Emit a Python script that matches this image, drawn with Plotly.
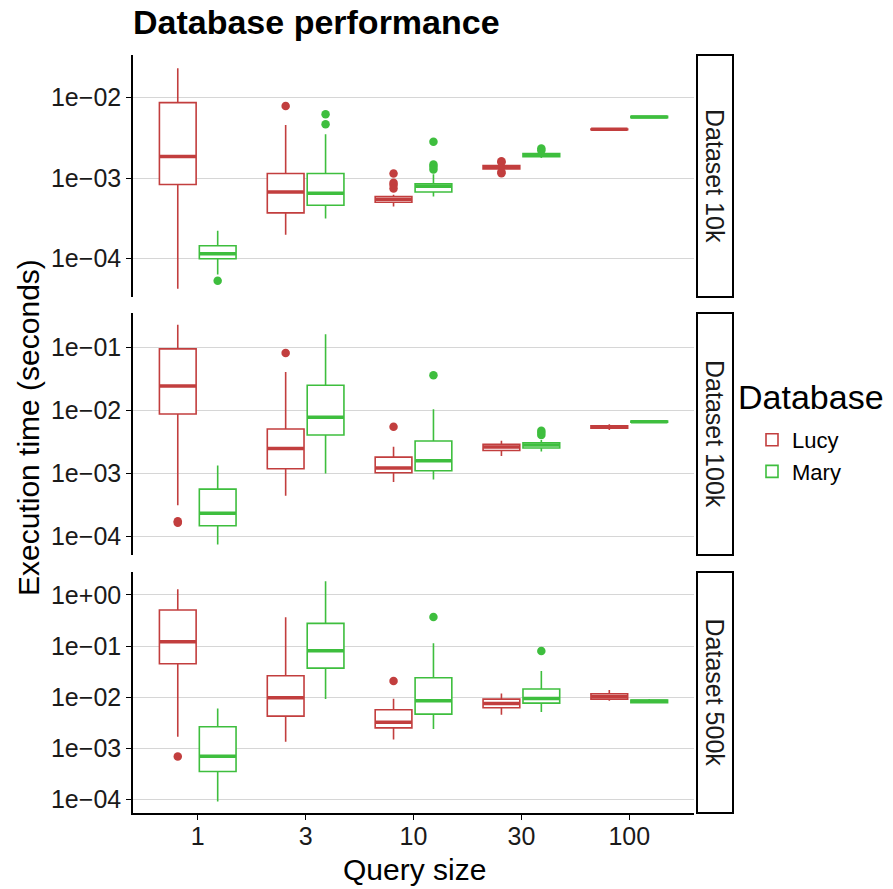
import plotly.graph_objects as go
from plotly.subplots import make_subplots

QUERY_SIZES = ["1", "3", "10", "30", "100"]
DATASETS = ["Dataset 10k", "Dataset 100k", "Dataset 500k"]
DATABASES = ["Lucy", "Mary"]
COLORS = {"Lucy": "#C23E3E", "Mary": "#3EBE3E"}

# ---- Dataset 10k ----
LUCY_10K_LOW = [4.2e-5, 1.97e-4, 4.41e-4, 1.25e-3, 3.96e-3]
LUCY_10K_Q1 = [8.3e-4, 3.68e-4, 5.0e-4, 1.30e-3, 3.99e-3]
LUCY_10K_MED = [1.85e-3, 6.72e-4, 5.44e-4, 1.36e-3, 4.03e-3]
LUCY_10K_Q3 = [8.67e-3, 1.14e-3, 5.88e-4, 1.43e-3, 4.07e-3]
LUCY_10K_HIGH = [2.32e-2, 4.56e-3, 6.2e-4, 1.48e-3, 4.1e-3]
LUCY_10K_OUT_X = ["3", "10", "10", "10", "10", "30", "30", "30", "30"]
LUCY_10K_OUT_Y = [7.87e-3, 1.14e-3, 8.7e-4, 8.2e-4, 7.4e-4, 1.62e-3, 1.57e-3, 1.19e-3, 1.15e-3]

MARY_10K_LOW = [6.3e-5, 3.13e-4, 5.88e-4, 1.78e-3, 5.5e-3]
MARY_10K_Q1 = [9.9e-5, 4.58e-4, 6.71e-4, 1.84e-3, 5.62e-3]
MARY_10K_MED = [1.14e-4, 6.47e-4, 7.9e-4, 1.93e-3, 5.74e-3]
MARY_10K_Q3 = [1.44e-4, 1.14e-3, 8.45e-4, 2.02e-3, 5.86e-3]
MARY_10K_HIGH = [2.21e-4, 3.49e-3, 1.11e-3, 2.1e-3, 5.95e-3]
MARY_10K_OUT_X = ["1", "3", "3", "10", "10", "10", "10", "30", "30"]
MARY_10K_OUT_Y = [5.26e-5, 6.2e-3, 4.65e-3, 2.82e-3, 1.47e-3, 1.38e-3, 1.28e-3, 2.33e-3, 2.2e-3]

# ---- Dataset 100k ----
LUCY_100K_LOW = [3.11e-4, 4.38e-4, 7.24e-4, 1.88e-3, 4.9e-3]
LUCY_100K_Q1 = [8.77e-3, 1.18e-3, 1.02e-3, 2.31e-3, 5.2e-3]
LUCY_100K_MED = [2.45e-2, 2.49e-3, 1.21e-3, 2.62e-3, 5.45e-3]
LUCY_100K_Q3 = [9.52e-2, 5.06e-3, 1.81e-3, 2.88e-3, 5.7e-3]
LUCY_100K_HIGH = [0.23, 0.041, 2.65e-3, 3.3e-3, 6.05e-3]
LUCY_100K_OUT_X = ["1", "1", "3", "10"]
LUCY_100K_OUT_Y = [1.72e-4, 1.64e-4, 0.0822, 5.51e-3]

MARY_100K_LOW = [7.36e-5, 9.96e-4, 7.98e-4, 2.23e-3, 6.4e-3]
MARY_100K_Q1 = [1.46e-4, 4.06e-3, 1.1e-3, 2.52e-3, 6.5e-3]
MARY_100K_MED = [2.32e-4, 7.76e-3, 1.58e-3, 2.81e-3, 6.62e-3]
MARY_100K_Q3 = [5.6e-4, 2.51e-2, 3.26e-3, 3.06e-3, 6.75e-3]
MARY_100K_HIGH = [1.33e-3, 0.163, 1.04e-2, 3.38e-3, 6.85e-3]
MARY_100K_OUT_X = ["10", "30", "30", "30"]
MARY_100K_OUT_Y = [0.0362, 4.76e-3, 4.4e-3, 4.06e-3]

# ---- Dataset 500k ----
LUCY_500K_LOW = [1.67e-3, 1.33e-3, 1.48e-3, 4.51e-3, 8.48e-3]
LUCY_500K_Q1 = [0.045, 4.24e-3, 2.5e-3, 6.18e-3, 9.14e-3]
LUCY_500K_MED = [0.1216, 9.7e-3, 3.23e-3, 7.51e-3, 1.03e-2]
LUCY_500K_Q3 = [0.508, 2.62e-2, 5.65e-3, 9.14e-3, 1.16e-2]
LUCY_500K_HIGH = [1.29, 0.365, 9.27e-3, 1.18e-2, 1.37e-2]
LUCY_500K_OUT_X = ["1", "10"]
LUCY_500K_OUT_Y = [6.87e-4, 0.0206]

MARY_500K_LOW = [9.0e-5, 9.14e-3, 2.36e-3, 5.08e-3, 7.55e-3]
MARY_500K_Q1 = [3.48e-4, 0.037, 4.64e-3, 7.62e-3, 7.8e-3]
MARY_500K_MED = [6.97e-4, 0.081, 8.48e-3, 9.42e-3, 8.3e-3]
MARY_500K_Q3 = [2.62e-3, 0.278, 2.39e-2, 1.44e-2, 8.75e-3]
MARY_500K_HIGH = [6.0e-3, 1.85, 0.113, 3.24e-2, 9.2e-3]
MARY_500K_OUT_X = ["10", "30"]
MARY_500K_OUT_Y = [0.37, 0.0798]

Y_TICKS_10K = [1e-4, 1e-3, 1e-2]
Y_TICKS_100K = [1e-4, 1e-3, 1e-2, 1e-1]
Y_TICKS_500K = [1e-4, 1e-3, 1e-2, 1e-1, 1e0]
Y_TICKTEXT_10K = ["1e\u221204", "1e\u221203", "1e\u221202"]
Y_TICKTEXT_100K = ["1e\u221204", "1e\u221203", "1e\u221202", "1e\u221201"]
Y_TICKTEXT_500K = ["1e\u221204", "1e\u221203", "1e\u221202", "1e\u221201", "1e+00"]

PANELS = [
    {
        "Lucy": (LUCY_10K_LOW, LUCY_10K_Q1, LUCY_10K_MED, LUCY_10K_Q3, LUCY_10K_HIGH, LUCY_10K_OUT_X, LUCY_10K_OUT_Y),
        "Mary": (MARY_10K_LOW, MARY_10K_Q1, MARY_10K_MED, MARY_10K_Q3, MARY_10K_HIGH, MARY_10K_OUT_X, MARY_10K_OUT_Y),
    },
    {
        "Lucy": (LUCY_100K_LOW, LUCY_100K_Q1, LUCY_100K_MED, LUCY_100K_Q3, LUCY_100K_HIGH, LUCY_100K_OUT_X, LUCY_100K_OUT_Y),
        "Mary": (MARY_100K_LOW, MARY_100K_Q1, MARY_100K_MED, MARY_100K_Q3, MARY_100K_HIGH, MARY_100K_OUT_X, MARY_100K_OUT_Y),
    },
    {
        "Lucy": (LUCY_500K_LOW, LUCY_500K_Q1, LUCY_500K_MED, LUCY_500K_Q3, LUCY_500K_HIGH, LUCY_500K_OUT_X, LUCY_500K_OUT_Y),
        "Mary": (MARY_500K_LOW, MARY_500K_Q1, MARY_500K_MED, MARY_500K_Q3, MARY_500K_HIGH, MARY_500K_OUT_X, MARY_500K_OUT_Y),
    },
]
Y_RANGES = [[-4.48, -1.47], [-4.30, -0.45], [-4.27, 0.45]]
Y_TICKVALS = [Y_TICKS_10K, Y_TICKS_100K, Y_TICKS_500K]
Y_TICKTEXTS = [Y_TICKTEXT_10K, Y_TICKTEXT_100K, Y_TICKTEXT_500K]

FONT = "Liberation Sans, Arial, sans-serif"
W, H = 893, 889
ML, MR, MT, MB = 133, 199, 55, 76
PW = W - ML - MR
PH = H - MT - MB


def py(px):
    return (H - MB - px) / PH


def pxx(px):
    return (px - ML) / PW


DOMAINS = [[py(297), py(55)], [py(555), py(313)], [py(813), py(572)]]

fig = make_subplots(rows=3, cols=1, shared_xaxes=True, vertical_spacing=0.02)

for r, panel in enumerate(PANELS, start=1):
    for db in DATABASES:
        low, q1, med, q3, high, ox, oy = panel[db]
        c = COLORS[db]
        fig.add_trace(go.Box(
            x=QUERY_SIZES, q1=q1, median=med, q3=q3, lowerfence=low, upperfence=high,
            name=db, legendgroup=db, showlegend=(r == 1), offsetgroup=db,
            line=dict(color=c, width=1.6), fillcolor="white", whiskerwidth=0,
            boxpoints=False, hoverinfo="skip",
        ), row=r, col=1)
    for db in DATABASES:
        low, q1, med, q3, high, ox, oy = panel[db]
        c = COLORS[db]
        fig.add_trace(go.Scatter(
            x=QUERY_SIZES, y=med, mode="markers", offsetgroup=db, showlegend=False,
            marker=dict(symbol="line-ew", size=26, line=dict(color=c, width=3.5)),
            hoverinfo="skip",
        ), row=r, col=1)
        fig.add_trace(go.Scatter(
            x=ox, y=oy, mode="markers", offsetgroup=db, showlegend=False,
            marker=dict(color=c, size=8.5, line=dict(width=0)), hoverinfo="skip",
        ), row=r, col=1)

for r in range(1, 4):
    fig.update_yaxes(
        type="log", range=Y_RANGES[r - 1], tickvals=Y_TICKVALS[r - 1], ticktext=Y_TICKTEXTS[r - 1],
        showgrid=True, gridcolor="#D6D6D6", gridwidth=1.2, zeroline=False,
        showline=True, linecolor="black", linewidth=1.6, ticks="outside", ticklen=5,
        tickcolor="black", tickwidth=1.2, tickfont=dict(size=25, color="#1a1a1a"),
        domain=DOMAINS[r - 1], row=r, col=1,
    )
    fig.update_xaxes(
        type="category", categoryorder="array", categoryarray=QUERY_SIZES, range=[-0.6, 4.6],
        showgrid=False, zeroline=False, showline=(r == 3), linecolor="black", linewidth=1.6,
        ticks="outside" if r == 3 else "", ticklen=5, tickcolor="black", tickwidth=1.2,
        showticklabels=(r == 3), tickfont=dict(size=25, color="#1a1a1a"),
        ticklabelstandoff=-5,
        row=r, col=1,
    )

shapes = []
annotations = []
yrefs = ["y", "y2", "y3"]
for i, ds in enumerate(DATASETS):
    shapes.append(dict(type="rect", xref="paper", yref=yrefs[i] + " domain",
                       x0=pxx(697), x1=pxx(733), y0=0, y1=1,
                       line=dict(color="black", width=2), fillcolor="white", layer="above"))
    annotations.append(dict(text=ds, xref="paper", yref=yrefs[i] + " domain",
                            x=pxx(715), y=0.5, xanchor="center", yanchor="middle",
                            showarrow=False, textangle=90,
                            font=dict(size=25, color="#1a1a1a", family=FONT)))

annotations.append(dict(text="Execution time (seconds)", xref="paper", yref="paper",
                        x=pxx(28), y=py(428), xanchor="center", yanchor="middle",
                        showarrow=False, textangle=-90,
                        font=dict(size=30, color="black", family=FONT)))
annotations.append(dict(text="Query size", xref="paper", yref="paper",
                        x=pxx(414), y=py(870), xanchor="center", yanchor="middle",
                        showarrow=False,
                        font=dict(size=30, color="black", family=FONT)))
annotations.append(dict(text="Database", xref="paper", yref="paper",
                        x=pxx(736), y=py(397), xanchor="left", yanchor="middle",
                        showarrow=False,
                        font=dict(size=34, color="black", family=FONT)))

fig.update_layout(
    width=W, height=H,
    margin=dict(l=ML, r=MR, t=MT, b=MB),
    paper_bgcolor="white", plot_bgcolor="white",
    font=dict(family=FONT, color="black"),
    title=dict(text="<b>Database performance</b>", x=0, xref="paper", xanchor="left",
               y=1 - 22 / H, yref="container", yanchor="middle",
               font=dict(size=34, color="black", family=FONT)),
    boxmode="group", boxgap=0.26, boxgroupgap=0.08,
    scattermode="group", scattergap=0.26,
    legend=dict(x=pxx(752), xanchor="left", y=py(456), yanchor="middle",
                font=dict(size=22), tracegroupgap=0, itemwidth=30, bgcolor="rgba(0,0,0,0)"),
    shapes=shapes, annotations=annotations,
)

fig.write_html("out.html", config={"displayModeBar": False},
               post_script="document.body.style.margin='0';document.body.style.padding='0';")
